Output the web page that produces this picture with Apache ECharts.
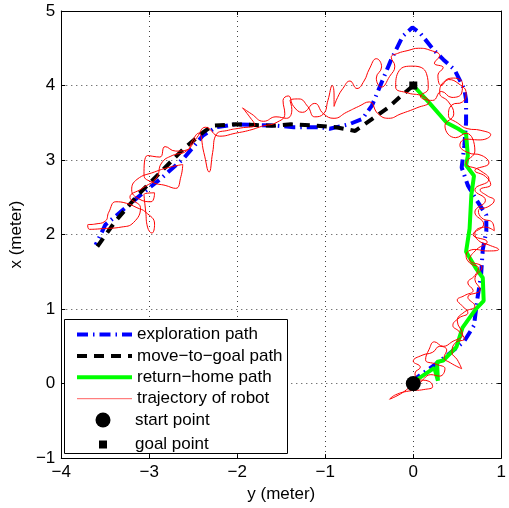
<!DOCTYPE html>
<html>
<head>
<meta charset="utf-8">
<script src="https://cdn.jsdelivr.net/npm/echarts@6/dist/echarts.min.js"></script>
<style>
  html, body { margin: 0; padding: 0; background: #fff; }
  #main { width: 509px; height: 508px; }
</style>
</head>
<body>
<div id="main"></div>
<script>
// [y, x] pairs in meters
const explorationPath = [
    [0, 0], [0.05, 0.09], [0.16, 0.18], [0.31, 0.31], [0.45, 0.44], [0.58, 0.57], [0.69, 0.78],
    [0.73, 1.15], [0.77, 1.45], [0.79, 1.8], [0.83, 2.04], [0.83, 2.26], [0.71, 2.48], [0.62, 2.66],
    [0.55, 2.9], [0.58, 3.19], [0.6, 3.5], [0.6, 3.81], [0.58, 3.95], [0.47, 4.21], [0.34, 4.35],
    [0.23, 4.48], [0.08, 4.7], [-0.01, 4.78], [-0.12, 4.66], [-0.25, 4.35], [-0.36, 4.04],
    [-0.47, 3.73], [-0.58, 3.55], [-0.73, 3.48], [-0.95, 3.42], [-1.06, 3.44], [-1.36, 3.44],
    [-1.54, 3.46], [-1.8, 3.47], [-2.02, 3.48], [-2.24, 3.44], [-2.39, 3.33], [-2.61, 3.02],
    [-2.87, 2.75], [-3.06, 2.57], [-3.28, 2.35], [-3.5, 2.13], [-3.61, 1.86]
];

const moveToGoalPath = [
    [-3.59, 1.84], [-3.39, 2.17], [-3.13, 2.53], [-2.87, 2.84], [-2.61, 3.15], [-2.39, 3.37],
    [-2.28, 3.46], [-2.02, 3.48], [-1.8, 3.47], [-1.58, 3.46], [-1.39, 3.48], [-1.1, 3.46],
    [-0.88, 3.44], [-0.66, 3.39], [-0.6, 3.44], [-0.47, 3.55], [-0.29, 3.7], [-0.14, 3.86], [0, 4]
];

const returnHomePath = [
    [0, 4], [0.18, 3.77], [0.38, 3.5], [0.51, 3.42], [0.6, 3.35], [0.62, 3.06], [0.6, 2.93],
    [0.69, 2.79], [0.66, 2.53], [0.64, 2.08], [0.6, 1.77], [0.71, 1.55], [0.79, 1.42], [0.8, 1.11],
    [0.71, 1.0], [0.56, 0.75], [0.49, 0.49], [0.34, 0.31], [0.27, 0.29], [0.28, 0.04],
    [0.24, 0.21], [0.05, 0.06], [0, 0]
];

const robotTrajectory = [
    [0, 0], [-0.12, -0.12], [-0.27, -0.21], [-0.2, -0.15], [-0.05, -0.1], [0.12, -0.08], [0.22, -0.04],
    [0.18, 0.03], [0.05, 0.06], [0.02, 0.14], [0.08, 0.22], [0.0, 0.3], [0.1, 0.38], [0.22, 0.42],
    [0.3, 0.5], [0.38, 0.45], [0.35, 0.35], [0.42, 0.28], [0.55, 0.2], [0.5, 0.32], [0.44, 0.42],
    [0.48, 0.55], [0.58, 0.6], [0.52, 0.7], [0.45, 0.78], [0.52, 0.88], [0.62, 0.95], [0.55, 1.05],
    [0.5, 1.12], [0.58, 1.18], [0.68, 1.25], [0.62, 1.35], [0.7, 1.45], [0.74, 1.55], [0.64, 1.62],
    [0.6, 1.72], [0.7, 1.8], [0.84, 1.78], [0.97, 1.8], [0.86, 1.86], [0.74, 1.92], [0.7, 2.02],
    [0.82, 2.1], [0.92, 2.05], [0.9, 2.16], [0.78, 2.22], [0.74, 2.32], [0.86, 2.38], [0.92, 2.46],
    [0.84, 2.52], [0.76, 2.6], [0.88, 2.67], [0.82, 2.78], [0.7, 2.86], [0.86, 2.96], [0.78, 3.06],
    [0.62, 3.1], [0.53, 3.2], [0.6, 3.28], [0.76, 3.27], [0.88, 3.34], [0.76, 3.4], [0.62, 3.42],
    [0.5, 3.5], [0.4, 3.6], [0.44, 3.74], [0.56, 3.78], [0.6, 3.9], [0.52, 4.02], [0.4, 4.08],
    [0.32, 4.0], [0.28, 4.14], [0.34, 4.24], [0.24, 4.3], [0.3, 4.4], [0.2, 4.47], [0.06, 4.5],
    [-0.06, 4.47], [-0.18, 4.43], [-0.25, 4.38], [-0.21, 4.26], [-0.27, 4.12], [-0.36, 3.98],
    [-0.42, 4.1], [-0.36, 4.25], [-0.42, 4.36], [-0.5, 4.22], [-0.56, 4.06], [-0.64, 3.96],
    [-0.72, 4.06], [-0.8, 3.96], [-0.86, 3.84], [-0.9, 3.72], [-0.9, 3.86], [-0.92, 4.0],
    [-0.97, 3.8], [-1.02, 3.62], [-1.12, 3.58], [-1.2, 3.72], [-1.3, 3.82], [-1.4, 3.8],
    [-1.38, 3.68], [-1.44, 3.56], [-1.56, 3.58], [-1.7, 3.52], [-1.84, 3.62], [-1.94, 3.7],
    [-1.86, 3.58], [-1.8, 3.47], [-1.96, 3.43], [-2.1, 3.4], [-2.24, 3.34], [-2.28, 3.1],
    [-2.32, 2.84], [-2.38, 3.1], [-2.44, 3.36], [-2.52, 3.24], [-2.56, 3.14], [-2.7, 3.12],
    [-2.82, 3.18], [-2.88, 3.04], [-3.02, 3.06], [-3.06, 2.8], [-2.96, 2.7], [-2.82, 2.66],
    [-2.7, 2.62], [-2.64, 2.78], [-2.62, 2.94], [-2.78, 2.9], [-2.94, 2.84], [-3.14, 2.74],
    [-3.2, 2.6], [-3.12, 2.48], [-2.98, 2.44], [-2.94, 2.56], [-3.06, 2.54], [-3.04, 2.3],
    [-3.02, 2.1], [-2.97, 2.02], [-2.94, 2.14], [-3.04, 2.3], [-3.14, 2.36], [-3.26, 2.42],
    [-3.38, 2.44], [-3.46, 2.3], [-3.5, 2.18], [-3.62, 2.14], [-3.7, 2.13], [-3.68, 2.07],
    [-3.52, 2.08], [-3.32, 2.1], [-3.18, 2.16],
    [-3.1, 2.36], [-3.22, 2.5], [-3.08, 2.62], [-2.92, 2.76], [-2.86, 2.96], [-2.74, 3.06],
    [-2.58, 3.12], [-2.46, 3.3], [-2.36, 3.44], [-2.2, 3.32], [-2.02, 3.36], [-1.86, 3.4],
    [-1.7, 3.46], [-1.56, 3.5], [-1.46, 3.62], [-1.48, 3.8], [-1.42, 3.86], [-1.36, 3.72],
    [-1.26, 3.64], [-1.12, 3.76], [-1.02, 3.62],
    [-0.9, 3.56], [-0.76, 3.64], [-0.62, 3.72], [-0.5, 3.78], [-0.4, 3.62], [-0.28, 3.56],
    [-0.14, 3.62], [0.04, 3.7], [0.18, 3.78], [0.1, 3.86], [-0.06, 3.9], [-0.2, 3.98],
    [-0.16, 4.2], [0, 4.26], [0.15, 4.16], [0.17, 3.96], [0.08, 3.86],
    [0.22, 3.8], [0.32, 3.92], [0.44, 3.84], [0.55, 3.9], [0.56, 4.02], [0.46, 4.1], [0.34, 4.04],
    [0.3, 3.9], [0.4, 3.78], [0.46, 3.62], [0.36, 3.46], [0.48, 3.3], [0.6, 3.36],
    [0.7, 3.12], [0.6, 2.96], [0.76, 2.86], [0.86, 2.74], [0.7, 2.6], [0.82, 2.46], [0.7, 2.3],
    [0.8, 2.14], [0.68, 2.0], [0.84, 1.9], [0.72, 1.8], [0.64, 1.66], [0.78, 1.56], [0.7, 1.4],
    [0.76, 1.26], [0.62, 1.16], [0.7, 1.04], [0.58, 0.96], [0.5, 0.84], [0.56, 0.66], [0.44, 0.56],
    [0.34, 0.5], [0.24, 0.56], [0.18, 0.46], [0.14, 0.32], [0.26, 0.26], [0.36, 0.2], [0.3, 0.1],
    [0.2, 0.12], [0.1, 0.04], [0.04, -0.04], [0, 0]
];

const startPoint = [[0, 0]];
const goalPoint = [[0, 4]];

const legendNames = ['exploration path', 'move\u2212to\u2212goal path', 'return\u2212home path', 'trajectory of robot'];

const FONT = 'Liberation Sans, Arial, Helvetica, sans-serif';
const minus = (v) => String(v).replace('-', '\u2212');

var myChart = echarts.init(document.getElementById('main'));

const legendText = {fontSize: 17, color: '#000', fontFamily: FONT};

var option = {
    animation: false,
    backgroundColor: '#fff',
    textStyle: {fontFamily: FONT, color: '#000'},
    grid: {left: 55, right: 3, top: 11, bottom: 46},
    xAxis: [
        {
            type: 'value', min: -4, max: 1, interval: 1,
            name: 'y (meter)', nameLocation: 'middle', nameGap: 27,
            nameTextStyle: {fontSize: 17, color: '#000', fontFamily: FONT},
            axisLine: {onZero: false, lineStyle: {color: '#000', width: 1}},
            axisTick: {inside: true, length: 4, lineStyle: {color: '#000'}},
            axisLabel: {fontSize: 17, color: '#000', margin: 6, formatter: minus, fontFamily: FONT},
            splitLine: {show: true, lineStyle: {color: '#000', type: [1, 4], width: 1, opacity: 0.75}}
        },
        {
            type: 'value', min: -4, max: 1, interval: 1, position: 'top',
            axisLine: {onZero: false, lineStyle: {color: '#000', width: 1}},
            axisTick: {inside: true, length: 4, lineStyle: {color: '#000'}},
            axisLabel: {show: false},
            splitLine: {show: false}
        }
    ],
    yAxis: [
        {
            type: 'value', min: -1, max: 5, interval: 1,
            name: 'x (meter)', nameLocation: 'middle', nameGap: 32,
            nameTextStyle: {fontSize: 17, color: '#000', fontFamily: FONT},
            axisLine: {show: true, onZero: false, lineStyle: {color: '#000', width: 1}},
            axisTick: {show: true, inside: true, length: 4, lineStyle: {color: '#000'}},
            axisLabel: {fontSize: 17, color: '#000', margin: 6, formatter: minus, fontFamily: FONT},
            splitLine: {show: true, lineStyle: {color: '#000', type: [1, 4], width: 1, opacity: 0.75}}
        },
        {
            type: 'value', min: -1, max: 5, interval: 1, position: 'right',
            axisLine: {show: true, onZero: false, lineStyle: {color: '#000', width: 1}},
            axisTick: {show: true, inside: true, length: 4, lineStyle: {color: '#000'}},
            axisLabel: {show: false},
            splitLine: {show: false}
        }
    ],
    legend: [
        {
            data: [
                {name: legendNames[0], lineStyle: {width: 4, type: [11, 5, 1.5, 5], color: '#0000ff'}},
                {name: legendNames[1], lineStyle: {width: 4, type: [10, 7], color: '#000'}},
                {name: legendNames[2], lineStyle: {width: 4, color: '#00ff00'}},
                {name: legendNames[3], lineStyle: {width: 1, color: '#ff6060'}}
            ],
            orient: 'vertical', left: 75, top: 326, padding: 0,
            itemWidth: 55, itemHeight: 14, itemGap: 4.4,
            itemStyle: {opacity: 0},
            textStyle: legendText
        },
        {
            data: [{name: 'start point', icon: 'circle'}],
            orient: 'vertical', left: 95.5, top: 411.5, padding: 0,
            itemWidth: 15, itemHeight: 15,
            itemStyle: {opacity: 1},
            textStyle: Object.assign({padding: [0, 0, 0, 19.5]}, legendText)
        },
        {
            data: [{name: 'goal point', icon: 'rect'}],
            orient: 'vertical', left: 99, top: 436, padding: 0,
            itemWidth: 8, itemHeight: 8,
            itemStyle: {opacity: 1},
            textStyle: Object.assign({padding: [0, 0, 0, 23]}, legendText)
        }
    ],
    graphic: [
        {
            type: 'rect', left: 64, top: 319, z: 2,
            shape: {width: 223, height: 134},
            style: {fill: '#fff', stroke: '#000', lineWidth: 1}
        }
    ],
    series: [
        {
            name: 'exploration path', type: 'line', data: explorationPath,
            symbol: 'none', z: 3,
            itemStyle: {color: '#0000ff'},
            lineStyle: {color: '#0000ff', width: 4, type: [11, 5, 1.5, 5]}
        },
        {
            name: 'move\u2212to\u2212goal path', type: 'line', data: moveToGoalPath,
            symbol: 'none', z: 3,
            itemStyle: {color: '#000'},
            lineStyle: {color: '#000', width: 4, type: [10, 7]}
        },
        {
            name: 'return\u2212home path', type: 'line', data: returnHomePath,
            symbol: 'none', z: 3,
            itemStyle: {color: '#00ff00'},
            lineStyle: {color: '#00ff00', width: 4}
        },
        {
            name: 'trajectory of robot', type: 'line', data: robotTrajectory,
            symbol: 'none', smooth: 0.5, z: 4,
            itemStyle: {color: '#ff0000'},
            lineStyle: {color: '#ff0000', width: 1}
        },
        {
            name: 'start point', type: 'scatter', data: startPoint,
            symbol: 'circle', symbolSize: 15, z: 5,
            itemStyle: {color: '#000', opacity: 1}
        },
        {
            name: 'goal point', type: 'scatter', data: goalPoint,
            symbol: 'rect', symbolSize: 8, z: 5,
            itemStyle: {color: '#000', opacity: 1}
        }
    ]
};

myChart.setOption(option);
</script>
</body>
</html>
